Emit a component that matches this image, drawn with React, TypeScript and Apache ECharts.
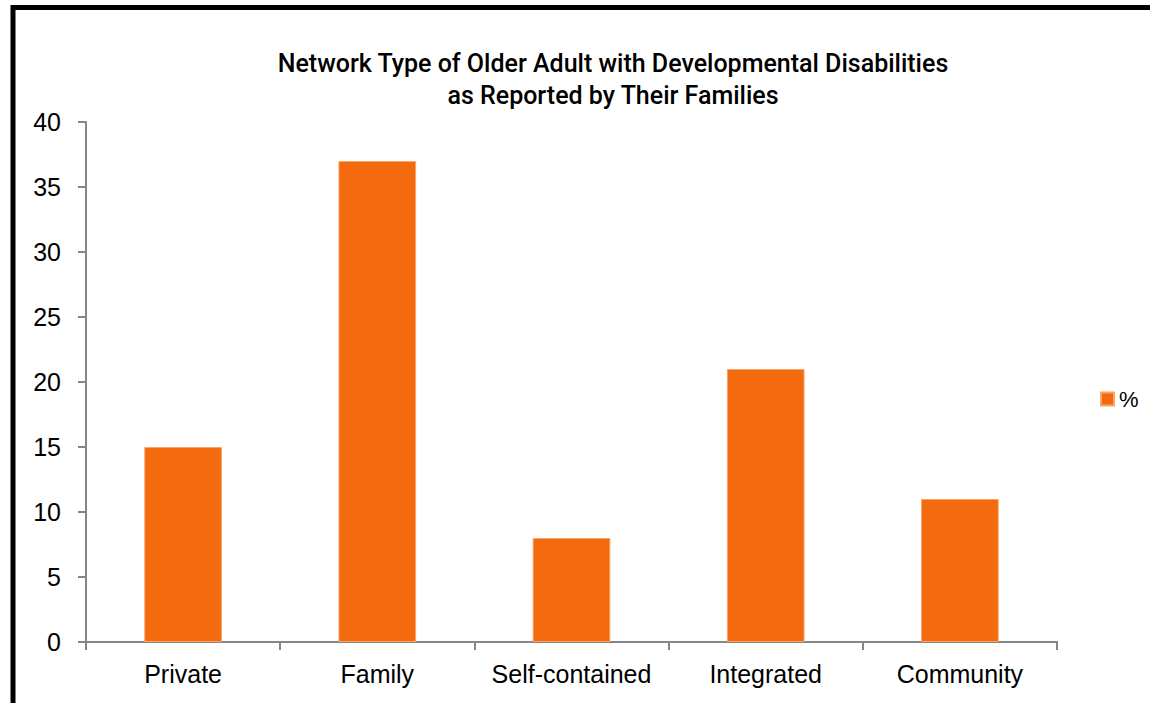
import React, { useEffect, useRef } from "react";
import * as echarts from "echarts";

const categories = ["Private", "Family", "Self-contained", "Integrated", "Community"];
const values = [15, 37, 8, 21, 11];
const seriesName = "%";
const titleText = "Network Type of Older Adult with Developmental Disabilities\nas Reported by Their Families";

export default function App() {
  const ref = useRef<HTMLDivElement>(null);
  useEffect(() => {
    document.body.style.margin = "0";
    const chart = echarts.init(ref.current!, null, { renderer: "svg" });
    const font = "'Liberation Sans', Arial, sans-serif";
    chart.setOption({
      animation: false,
      backgroundColor: "#ffffff",
      title: {
        text: titleText,
        left: 608,
        textAlign: "center",
        top: 42,
        textStyle: {
          fontFamily: "Roboto, 'Liberation Sans', sans-serif",
          fontSize: 25,
          fontWeight: 500,
          color: "#000",
          lineHeight: 32,
        },
      },
      legend: {
        data: [seriesName],
        orient: "vertical",
        left: 1095,
        top: 383,
        icon: "rect",
        itemWidth: 13,
        itemHeight: 13,
        itemGap: 6,
        textStyle: { fontFamily: font, fontSize: 22, color: "#000" },
      },
      graphic: [
        {
          type: "rect",
          shape: { x: 13, y: 7.5, width: 2000, height: 2000 },
          style: { fill: "none", stroke: "#000", lineWidth: 5 },
          silent: true,
        },
      ],
      grid: { left: 86, right: 93, top: 122, bottom: 61, containLabel: false },
      xAxis: {
        type: "category",
        data: categories,
        axisLine: { lineStyle: { color: "#868686", width: 2 } },
        axisTick: { show: true, length: 8, inside: false, alignWithLabel: false, lineStyle: { color: "#868686", width: 2 } },
        axisLabel: { interval: 0, fontFamily: font, fontSize: 25, color: "#000", margin: 19 },
      },
      yAxis: {
        type: "value",
        min: 0,
        max: 40,
        interval: 5,
        splitLine: { show: false },
        axisLine: { show: true, lineStyle: { color: "#868686", width: 2 } },
        axisTick: { show: true, length: 8, lineStyle: { color: "#868686", width: 2 } },
        axisLabel: { fontFamily: font, fontSize: 25, color: "#000", margin: 25 },
      },
      series: [
        {
          name: seriesName,
          type: "bar",
          data: values,
          barCategoryGap: "60%",
          itemStyle: { color: "#F46A0E", borderColor: "#F9A56A", borderWidth: 1 },
        },
      ],
    });
    return () => chart.dispose();
  }, []);
  return <div ref={ref} style={{ width: 1150, height: 703, position: "absolute", left: 0, top: 0 }} />;
}
